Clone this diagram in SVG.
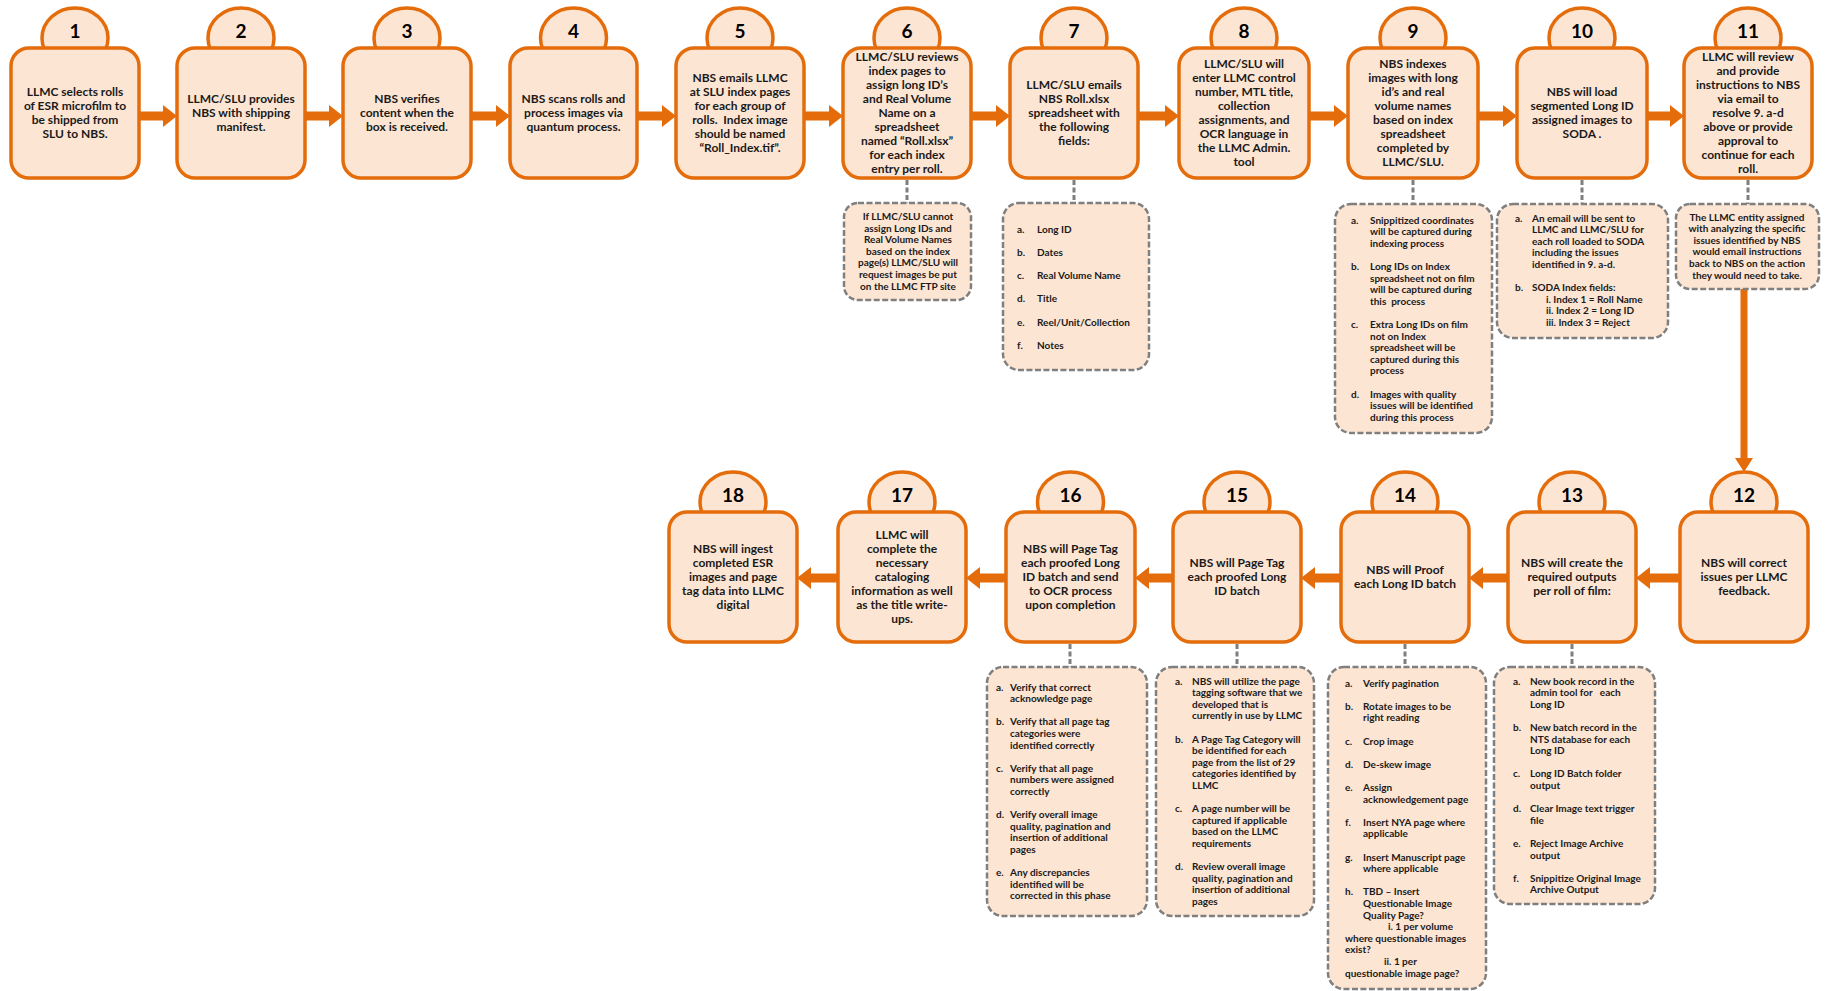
<svg xmlns="http://www.w3.org/2000/svg" width="1825" height="991" viewBox="0 0 1825 991">
<defs>
<style>
.box{fill:#FDE5D3;stroke:#E46C0A;stroke-width:3.5}
.note{fill:#FDE5D3;stroke:#7F7F7F;stroke-width:2.5;stroke-dasharray:6 2.5}
.dash{stroke:#7F7F7F;stroke-width:3;stroke-dasharray:5 2.5;fill:none}
.arrow{fill:#E46C0A}
.t{font-family:Lato,"Liberation Sans",sans-serif;font-weight:700;font-size:12px;fill:#1a1a1a;text-anchor:middle}
.num{font-family:Lato,"Liberation Sans",sans-serif;font-weight:700;font-size:19px;fill:#000;text-anchor:middle}
.n{font-family:Lato,"Liberation Sans",sans-serif;font-weight:700;font-size:10px;fill:#1a1a1a}
.nc{text-anchor:middle}
</style>
</defs>
<rect width="1825" height="991" fill="#fff"/>
<g id="connectors">
<path class="arrow" d="M139 111.5 H163 V105 L177 116 L163 127 V120.5 H139 Z"/>
<path class="arrow" d="M305 111.5 H329 V105 L343 116 L329 127 V120.5 H305 Z"/>
<path class="arrow" d="M471 111.5 H496 V105 L510 116 L496 127 V120.5 H471 Z"/>
<path class="arrow" d="M637 111.5 H662 V105 L676 116 L662 127 V120.5 H637 Z"/>
<path class="arrow" d="M804 111.5 H829 V105 L843 116 L829 127 V120.5 H804 Z"/>
<path class="arrow" d="M971 111.5 H996 V105 L1010 116 L996 127 V120.5 H971 Z"/>
<path class="arrow" d="M1138 111.5 H1165 V105 L1179 116 L1165 127 V120.5 H1138 Z"/>
<path class="arrow" d="M1309 111.5 H1334 V105 L1348 116 L1334 127 V120.5 H1309 Z"/>
<path class="arrow" d="M1478 111.5 H1503 V105 L1517 116 L1503 127 V120.5 H1478 Z"/>
<path class="arrow" d="M1647 111.5 H1670 V105 L1684 116 L1670 127 V120.5 H1647 Z"/>
<path class="arrow" d="M1740.5 289 V458 H1735 L1744 472 L1753 458 H1747.5 V289 Z"/>
<path class="arrow" d="M1680 573.5 H1650 V567 L1636 578 L1650 589 V582.5 H1680 Z"/>
<path class="arrow" d="M1508 573.5 H1483 V567 L1469 578 L1483 589 V582.5 H1508 Z"/>
<path class="arrow" d="M1341 573.5 H1315 V567 L1301 578 L1315 589 V582.5 H1341 Z"/>
<path class="arrow" d="M1173 573.5 H1149 V567 L1135 578 L1149 589 V582.5 H1173 Z"/>
<path class="arrow" d="M1006 573.5 H980 V567 L966 578 L980 589 V582.5 H1006 Z"/>
<path class="arrow" d="M838 573.5 H811 V567 L797 578 L811 589 V582.5 H838 Z"/>
<path class="dash" d="M907 180 V203"/>
<path class="dash" d="M1074 180 V203"/>
<path class="dash" d="M1413 180 V204"/>
<path class="dash" d="M1582 180 V204"/>
<path class="dash" d="M1748 180 V204"/>
<path class="dash" d="M1070 644 V667"/>
<path class="dash" d="M1237 644 V667"/>
<path class="dash" d="M1405 644 V667"/>
<path class="dash" d="M1572 644 V667"/>
</g>
<g id="n1">
<ellipse class="box" cx="75" cy="38" rx="33" ry="30"/>
<rect class="box" x="11" y="48" width="128" height="130" rx="18"/>
<text class="num" x="75" y="38">1</text>
<text class="t"><tspan x="75" y="96">LLMC selects rolls</tspan><tspan x="75" y="110">of ESR microfilm to</tspan><tspan x="75" y="124">be shipped from</tspan><tspan x="75" y="138">SLU to NBS.</tspan></text>
</g>
<g id="n2">
<ellipse class="box" cx="241" cy="38" rx="33" ry="30"/>
<rect class="box" x="177" y="48" width="128" height="130" rx="18"/>
<text class="num" x="241" y="38">2</text>
<text class="t"><tspan x="241" y="103">LLMC/SLU provides</tspan><tspan x="241" y="117">NBS with shipping</tspan><tspan x="241" y="131">manifest.</tspan></text>
</g>
<g id="n3">
<ellipse class="box" cx="407" cy="38" rx="33" ry="30"/>
<rect class="box" x="343" y="48" width="128" height="130" rx="18"/>
<text class="num" x="407" y="38">3</text>
<text class="t"><tspan x="407" y="103">NBS verifies</tspan><tspan x="407" y="117">content when the</tspan><tspan x="407" y="131">box is received.</tspan></text>
</g>
<g id="n4">
<ellipse class="box" cx="573.5" cy="38" rx="33" ry="30"/>
<rect class="box" x="510" y="48" width="127" height="130" rx="18"/>
<text class="num" x="573.5" y="38">4</text>
<text class="t"><tspan x="573.5" y="103">NBS scans rolls and</tspan><tspan x="573.5" y="117">process images via</tspan><tspan x="573.5" y="131">quantum process.</tspan></text>
</g>
<g id="n5">
<ellipse class="box" cx="740" cy="38" rx="33" ry="30"/>
<rect class="box" x="676" y="48" width="128" height="130" rx="18"/>
<text class="num" x="740" y="38">5</text>
<text class="t"><tspan x="740" y="82">NBS emails LLMC</tspan><tspan x="740" y="96">at SLU index pages</tspan><tspan x="740" y="110">for each group of</tspan><tspan x="740" y="124">rolls.&#160; Index image</tspan><tspan x="740" y="138">should be named</tspan><tspan x="740" y="152">“Roll_Index.tif”.</tspan></text>
</g>
<g id="n6">
<ellipse class="box" cx="907" cy="38" rx="33" ry="30"/>
<rect class="box" x="843" y="48" width="128" height="130" rx="18"/>
<text class="num" x="907" y="38">6</text>
<text class="t"><tspan x="907" y="61">LLMC/SLU reviews</tspan><tspan x="907" y="75">index pages to</tspan><tspan x="907" y="89">assign long ID’s</tspan><tspan x="907" y="103">and Real Volume</tspan><tspan x="907" y="117">Name on a</tspan><tspan x="907" y="131">spreadsheet</tspan><tspan x="907" y="145">named “Roll.xlsx”</tspan><tspan x="907" y="159">for each index</tspan><tspan x="907" y="173">entry per roll.</tspan></text>
<rect class="note" x="844" y="203" width="127" height="97" rx="14"/>
<text class="n nc"><tspan x="908" y="220">If LLMC/SLU cannot</tspan><tspan x="908" y="231.6">assign Long IDs and</tspan><tspan x="908" y="243.2">Real Volume Names</tspan><tspan x="908" y="254.8">based on the index</tspan><tspan x="908" y="266.4">page(s) LLMC/SLU will</tspan><tspan x="908" y="278">request images be put</tspan><tspan x="908" y="289.6">on the LLMC FTP site</tspan></text>
</g>
<g id="n7">
<ellipse class="box" cx="1074" cy="38" rx="33" ry="30"/>
<rect class="box" x="1010" y="48" width="128" height="130" rx="18"/>
<text class="num" x="1074" y="38">7</text>
<text class="t"><tspan x="1074" y="89">LLMC/SLU emails</tspan><tspan x="1074" y="103">NBS Roll.xlsx</tspan><tspan x="1074" y="117">spreadsheet with</tspan><tspan x="1074" y="131">the following</tspan><tspan x="1074" y="145">fields:</tspan></text>
<rect class="note" x="1003" y="203" width="146" height="167" rx="16"/>
<text class="n"><tspan x="1017" y="232.5">a.</tspan><tspan x="1017" y="255.8">b.</tspan><tspan x="1017" y="279.1">c.</tspan><tspan x="1017" y="302.4">d.</tspan><tspan x="1017" y="325.7">e.</tspan><tspan x="1017" y="349">f.</tspan></text>
<text class="n"><tspan x="1037" y="232.5">Long ID</tspan><tspan x="1037" y="255.8">Dates</tspan><tspan x="1037" y="279.1">Real Volume Name</tspan><tspan x="1037" y="302.4">Title</tspan><tspan x="1037" y="325.7">Reel/Unit/Collection</tspan><tspan x="1037" y="349">Notes</tspan></text>
</g>
<g id="n8">
<ellipse class="box" cx="1244" cy="38" rx="33" ry="30"/>
<rect class="box" x="1179" y="48" width="130" height="130" rx="18"/>
<text class="num" x="1244" y="38">8</text>
<text class="t"><tspan x="1244" y="68">LLMC/SLU will</tspan><tspan x="1244" y="82">enter LLMC control</tspan><tspan x="1244" y="96">number, MTL title,</tspan><tspan x="1244" y="110">collection</tspan><tspan x="1244" y="124">assignments, and</tspan><tspan x="1244" y="138">OCR language in</tspan><tspan x="1244" y="152">the LLMC Admin.</tspan><tspan x="1244" y="166">tool</tspan></text>
</g>
<g id="n9">
<ellipse class="box" cx="1413" cy="38" rx="33" ry="30"/>
<rect class="box" x="1348" y="48" width="130" height="130" rx="18"/>
<text class="num" x="1413" y="38">9</text>
<text class="t"><tspan x="1413" y="68">NBS indexes</tspan><tspan x="1413" y="82">images with long</tspan><tspan x="1413" y="96">id’s and real</tspan><tspan x="1413" y="110">volume names</tspan><tspan x="1413" y="124">based on index</tspan><tspan x="1413" y="138">spreadsheet</tspan><tspan x="1413" y="152">completed by</tspan><tspan x="1413" y="166">LLMC/SLU.</tspan></text>
<rect class="note" x="1335" y="204" width="157" height="229" rx="16"/>
<text class="n"><tspan x="1351" y="223.5">a.</tspan><tspan x="1351" y="269.9">b.</tspan><tspan x="1351" y="327.9">c.</tspan><tspan x="1351" y="397.5">d.</tspan></text>
<text class="n"><tspan x="1370" y="223.5">Snippitized coordinates</tspan><tspan x="1370" y="235.1">will be captured during</tspan><tspan x="1370" y="246.7">indexing process</tspan><tspan x="1370" y="269.9">Long IDs on Index</tspan><tspan x="1370" y="281.5">spreadsheet not on film</tspan><tspan x="1370" y="293.1">will be captured during</tspan><tspan x="1370" y="304.7">this&#160; process</tspan><tspan x="1370" y="327.9">Extra Long IDs on film</tspan><tspan x="1370" y="339.5">not on Index</tspan><tspan x="1370" y="351.1">spreadsheet will be</tspan><tspan x="1370" y="362.7">captured during this</tspan><tspan x="1370" y="374.3">process</tspan><tspan x="1370" y="397.5">Images with quality</tspan><tspan x="1370" y="409.1">issues will be identified</tspan><tspan x="1370" y="420.7">during this process</tspan></text>
</g>
<g id="n10">
<ellipse class="box" cx="1582" cy="38" rx="33" ry="30"/>
<rect class="box" x="1517" y="48" width="130" height="130" rx="18"/>
<text class="num" x="1582" y="38">10</text>
<text class="t"><tspan x="1582" y="96">NBS will load</tspan><tspan x="1582" y="110">segmented Long ID</tspan><tspan x="1582" y="124">assigned images to</tspan><tspan x="1582" y="138">SODA .</tspan></text>
<rect class="note" x="1497" y="204" width="171" height="134" rx="16"/>
<text class="n"><tspan x="1515" y="221.5">a.</tspan><tspan x="1515" y="291.1">b.</tspan></text>
<text class="n"><tspan x="1532" y="221.5">An email will be sent to</tspan><tspan x="1532" y="233.1">LLMC and LLMC/SLU for</tspan><tspan x="1532" y="244.7">each roll loaded to SODA</tspan><tspan x="1532" y="256.3">including the issues</tspan><tspan x="1532" y="267.9">identified in 9. a-d.</tspan><tspan x="1532" y="291.1">SODA Index fields:</tspan><tspan x="1546" y="302.7">i. Index 1 = Roll Name</tspan><tspan x="1546" y="314.3">ii. Index 2 = Long ID</tspan><tspan x="1546" y="325.9">iii. Index 3 = Reject</tspan></text>
</g>
<g id="n11">
<ellipse class="box" cx="1748" cy="38" rx="33" ry="30"/>
<rect class="box" x="1684" y="48" width="128" height="130" rx="18"/>
<text class="num" x="1748" y="38">11</text>
<text class="t"><tspan x="1748" y="61">LLMC will review</tspan><tspan x="1748" y="75">and provide</tspan><tspan x="1748" y="89">instructions to NBS</tspan><tspan x="1748" y="103">via email to</tspan><tspan x="1748" y="117">resolve 9. a-d</tspan><tspan x="1748" y="131">above or provide</tspan><tspan x="1748" y="145">approval to</tspan><tspan x="1748" y="159">continue for each</tspan><tspan x="1748" y="173">roll.</tspan></text>
<rect class="note" x="1676" y="204" width="143" height="85" rx="14"/>
<text class="n nc"><tspan x="1747" y="220.5">The LLMC entity assigned</tspan><tspan x="1747" y="232.1">with analyzing the specific</tspan><tspan x="1747" y="243.7">issues identified by NBS</tspan><tspan x="1747" y="255.3">would email instructions</tspan><tspan x="1747" y="266.9">back to NBS on the action</tspan><tspan x="1747" y="278.5">they would need to take.</tspan></text>
</g>
<g id="n12">
<ellipse class="box" cx="1744" cy="502" rx="33" ry="30"/>
<rect class="box" x="1680" y="512" width="128" height="130" rx="18"/>
<text class="num" x="1744" y="502">12</text>
<text class="t"><tspan x="1744" y="567">NBS will correct</tspan><tspan x="1744" y="581">issues per LLMC</tspan><tspan x="1744" y="595">feedback.</tspan></text>
</g>
<g id="n13">
<ellipse class="box" cx="1572" cy="502" rx="33" ry="30"/>
<rect class="box" x="1508" y="512" width="128" height="130" rx="18"/>
<text class="num" x="1572" y="502">13</text>
<text class="t"><tspan x="1572" y="567">NBS will create the</tspan><tspan x="1572" y="581">required outputs</tspan><tspan x="1572" y="595">per roll of film:</tspan></text>
<rect class="note" x="1494" y="667" width="161" height="237" rx="16"/>
<text class="n"><tspan x="1513" y="684.5">a.</tspan><tspan x="1513" y="730.9">b.</tspan><tspan x="1513" y="777.3">c.</tspan><tspan x="1513" y="812.1">d.</tspan><tspan x="1513" y="846.9">e.</tspan><tspan x="1513" y="881.7">f.</tspan></text>
<text class="n"><tspan x="1530" y="684.5">New book record in the</tspan><tspan x="1530" y="696.1">admin tool for&#160;&#160; each</tspan><tspan x="1530" y="707.7">Long ID</tspan><tspan x="1530" y="730.9">New batch record in the</tspan><tspan x="1530" y="742.5">NTS database for each</tspan><tspan x="1530" y="754.1">Long ID</tspan><tspan x="1530" y="777.3">Long ID Batch folder</tspan><tspan x="1530" y="788.9">output</tspan><tspan x="1530" y="812.1">Clear Image text trigger</tspan><tspan x="1530" y="823.7">file</tspan><tspan x="1530" y="846.9">Reject Image Archive</tspan><tspan x="1530" y="858.5">output</tspan><tspan x="1530" y="881.7">Snippitize Original Image</tspan><tspan x="1530" y="893.3">Archive Output</tspan></text>
</g>
<g id="n14">
<ellipse class="box" cx="1405" cy="502" rx="33" ry="30"/>
<rect class="box" x="1341" y="512" width="128" height="130" rx="18"/>
<text class="num" x="1405" y="502">14</text>
<text class="t"><tspan x="1405" y="574">NBS will Proof</tspan><tspan x="1405" y="588">each Long ID batch</tspan></text>
<rect class="note" x="1328" y="667" width="158" height="322" rx="16"/>
<text class="n"><tspan x="1345" y="686.5">a.</tspan><tspan x="1345" y="709.7">b.</tspan><tspan x="1345" y="744.5">c.</tspan><tspan x="1345" y="767.7">d.</tspan><tspan x="1345" y="790.9">e.</tspan><tspan x="1345" y="825.7">f.</tspan><tspan x="1345" y="860.5">g.</tspan><tspan x="1345" y="895.3">h.</tspan></text>
<text class="n"><tspan x="1363" y="686.5">Verify pagination</tspan><tspan x="1363" y="709.7">Rotate images to be</tspan><tspan x="1363" y="721.3">right reading</tspan><tspan x="1363" y="744.5">Crop image</tspan><tspan x="1363" y="767.7">De-skew image</tspan><tspan x="1363" y="790.9">Assign</tspan><tspan x="1363" y="802.5">acknowledgement page</tspan><tspan x="1363" y="825.7">Insert NYA page where</tspan><tspan x="1363" y="837.3">applicable</tspan><tspan x="1363" y="860.5">Insert Manuscript page</tspan><tspan x="1363" y="872.1">where applicable</tspan><tspan x="1363" y="895.3">TBD – Insert</tspan><tspan x="1363" y="906.9">Questionable Image</tspan><tspan x="1363" y="918.5">Quality Page?</tspan><tspan x="1388" y="930.1">i. 1 per volume</tspan><tspan x="1345" y="941.7">where questionable images</tspan><tspan x="1345" y="953.3">exist?</tspan><tspan x="1384" y="964.9">ii. 1 per</tspan><tspan x="1345" y="976.5">questionable image page?</tspan></text>
</g>
<g id="n15">
<ellipse class="box" cx="1237" cy="502" rx="33" ry="30"/>
<rect class="box" x="1173" y="512" width="128" height="130" rx="18"/>
<text class="num" x="1237" y="502">15</text>
<text class="t"><tspan x="1237" y="567">NBS will Page Tag</tspan><tspan x="1237" y="581">each proofed Long</tspan><tspan x="1237" y="595">ID batch</tspan></text>
<rect class="note" x="1156" y="667" width="158" height="249" rx="16"/>
<text class="n"><tspan x="1175" y="684.5">a.</tspan><tspan x="1175" y="742.5">b.</tspan><tspan x="1175" y="812.1">c.</tspan><tspan x="1175" y="870.1">d.</tspan></text>
<text class="n"><tspan x="1192" y="684.5">NBS will utilize the page</tspan><tspan x="1192" y="696.1">tagging software that we</tspan><tspan x="1192" y="707.7">developed that is</tspan><tspan x="1192" y="719.3">currently in use by LLMC</tspan><tspan x="1192" y="742.5">A Page Tag Category will</tspan><tspan x="1192" y="754.1">be identified for each</tspan><tspan x="1192" y="765.7">page from the list of 29</tspan><tspan x="1192" y="777.3">categories identified by</tspan><tspan x="1192" y="788.9">LLMC</tspan><tspan x="1192" y="812.1">A page number will be</tspan><tspan x="1192" y="823.7">captured if applicable</tspan><tspan x="1192" y="835.3">based on the LLMC</tspan><tspan x="1192" y="846.9">requirements</tspan><tspan x="1192" y="870.1">Review overall image</tspan><tspan x="1192" y="881.7">quality, pagination and</tspan><tspan x="1192" y="893.3">insertion of additional</tspan><tspan x="1192" y="904.9">pages</tspan></text>
</g>
<g id="n16">
<ellipse class="box" cx="1070.5" cy="502" rx="33" ry="30"/>
<rect class="box" x="1006" y="512" width="129" height="130" rx="18"/>
<text class="num" x="1070.5" y="502">16</text>
<text class="t"><tspan x="1070.5" y="553">NBS will Page Tag</tspan><tspan x="1070.5" y="567">each proofed Long</tspan><tspan x="1070.5" y="581">ID batch and send</tspan><tspan x="1070.5" y="595">to OCR process</tspan><tspan x="1070.5" y="609">upon completion</tspan></text>
<rect class="note" x="987" y="667" width="160" height="249" rx="16"/>
<text class="n"><tspan x="996" y="690.5">a.</tspan><tspan x="996" y="725.3">b.</tspan><tspan x="996" y="771.7">c.</tspan><tspan x="996" y="818.1">d.</tspan><tspan x="996" y="876.1">e.</tspan></text>
<text class="n"><tspan x="1010" y="690.5">Verify that correct</tspan><tspan x="1010" y="702.1">acknowledge page</tspan><tspan x="1010" y="725.3">Verify that all page tag</tspan><tspan x="1010" y="736.9">categories were</tspan><tspan x="1010" y="748.5">identified correctly</tspan><tspan x="1010" y="771.7">Verify that all page</tspan><tspan x="1010" y="783.3">numbers were assigned</tspan><tspan x="1010" y="794.9">correctly</tspan><tspan x="1010" y="818.1">Verify overall image</tspan><tspan x="1010" y="829.7">quality, pagination and</tspan><tspan x="1010" y="841.3">insertion of additional</tspan><tspan x="1010" y="852.9">pages</tspan><tspan x="1010" y="876.1">Any discrepancies</tspan><tspan x="1010" y="887.7">identified will be</tspan><tspan x="1010" y="899.3">corrected in this phase</tspan></text>
</g>
<g id="n17">
<ellipse class="box" cx="902" cy="502" rx="33" ry="30"/>
<rect class="box" x="838" y="512" width="128" height="130" rx="18"/>
<text class="num" x="902" y="502">17</text>
<text class="t"><tspan x="902" y="539">LLMC will</tspan><tspan x="902" y="553">complete the</tspan><tspan x="902" y="567">necessary</tspan><tspan x="902" y="581">cataloging</tspan><tspan x="902" y="595">information as well</tspan><tspan x="902" y="609">as the title write-</tspan><tspan x="902" y="623">ups.</tspan></text>
</g>
<g id="n18">
<ellipse class="box" cx="733" cy="502" rx="33" ry="30"/>
<rect class="box" x="669" y="512" width="128" height="130" rx="18"/>
<text class="num" x="733" y="502">18</text>
<text class="t"><tspan x="733" y="553">NBS will ingest</tspan><tspan x="733" y="567">completed ESR</tspan><tspan x="733" y="581">images and page</tspan><tspan x="733" y="595">tag data into LLMC</tspan><tspan x="733" y="609">digital</tspan></text>
</g>
</svg>
